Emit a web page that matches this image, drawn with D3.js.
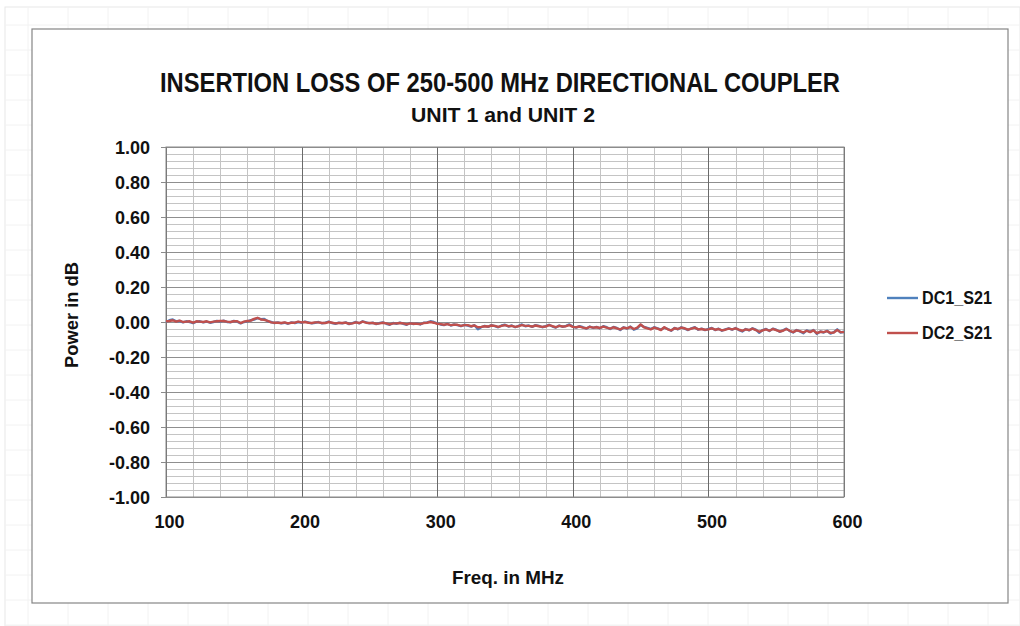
<!DOCTYPE html>
<html>
<head>
<meta charset="utf-8">
<script src="https://cdn.jsdelivr.net/npm/d3@7"></script>
<style>
  body { margin: 0; background: #fff; }
  svg text { font-family: "Liberation Sans", Arial, sans-serif; font-weight: bold; fill: #111; }
</style>
</head>
<body>
<svg id="chart" width="1020" height="626"></svg>
<script>
// sweep: 100 to 600 MHz in 2.5 MHz steps
const freqStart = 100;
const freqStop = 600;
const freqStep = 2.5;
const freqs = d3.range(freqStart, freqStop + 0.001, freqStep);

const seriesNames = ["DC1_S21", "DC2_S21"];
const seriesColors = ["#4F81BD", "#C0504D"];

const dc1 = [
  0.000, 0.010, 0.014, 0.004, 0.006, -0.002, 0.004, 0.000, -0.006, 0.002,
  0.004, -0.002, 0.002, -0.004, 0.000, 0.006, 0.002, 0.008, 0.000, -0.002,
  0.006, 0.002, -0.008, 0.000, 0.004, 0.010, 0.014, 0.022, 0.016, 0.018,
  0.004, 0.000, -0.006, -0.002, -0.008, -0.004, -0.010, -0.002, -0.006, 0.000,
  -0.004, 0.002, -0.002, -0.008, -0.004, 0.000, -0.008, -0.004, 0.002, -0.006,
  -0.010, -0.004, -0.008, -0.002, -0.012, -0.006, 0.000, -0.008, 0.004, -0.002,
  -0.008, -0.004, -0.012, -0.006, -0.002, -0.010, -0.016, -0.006, -0.010, -0.004,
  -0.010, -0.016, -0.006, -0.012, -0.008, -0.014, -0.004, -0.002, 0.004, 0.000,
  -0.008, -0.014, -0.018, -0.010, -0.020, -0.014, -0.018, -0.024, -0.016, -0.020,
  -0.026, -0.018, -0.042, -0.030, -0.022, -0.028, -0.018, -0.024, -0.030, -0.020,
  -0.016, -0.026, -0.020, -0.030, -0.022, -0.014, -0.024, -0.020, -0.028, -0.018,
  -0.022, -0.030, -0.024, -0.016, -0.026, -0.032, -0.020, -0.028, -0.022, -0.014,
  -0.026, -0.032, -0.024, -0.030, -0.038, -0.026, -0.034, -0.028, -0.036, -0.024,
  -0.030, -0.040, -0.028, -0.034, -0.046, -0.030, -0.038, -0.026, -0.044, -0.036,
  -0.016, -0.028, -0.034, -0.040, -0.030, -0.036, -0.044, -0.032, -0.040, -0.050,
  -0.034, -0.042, -0.030, -0.038, -0.046, -0.036, -0.030, -0.044, -0.038, -0.046,
  -0.040, -0.034, -0.046, -0.038, -0.050, -0.042, -0.036, -0.044, -0.034, -0.046,
  -0.054, -0.040, -0.048, -0.036, -0.044, -0.062, -0.046, -0.040, -0.052, -0.038,
  -0.044, -0.056, -0.048, -0.038, -0.052, -0.060, -0.046, -0.054, -0.064, -0.048,
  -0.056, -0.046, -0.068, -0.054, -0.060, -0.050, -0.066, -0.058, -0.042, -0.060,
  -0.056
];

const dc2 = [
  0.004, 0.006, 0.010, 0.002, 0.008, 0.000, 0.002, 0.004, -0.004, 0.004,
  0.002, 0.000, 0.004, -0.002, 0.002, 0.004, 0.006, 0.006, 0.002, 0.000,
  0.004, 0.004, -0.006, 0.002, 0.006, 0.008, 0.018, 0.024, 0.014, 0.012,
  0.006, -0.002, -0.004, -0.004, -0.006, -0.002, -0.008, -0.004, -0.004, 0.002,
  -0.002, 0.000, -0.004, -0.006, -0.002, -0.002, -0.006, -0.006, 0.000, -0.004,
  -0.008, -0.006, -0.006, -0.004, -0.010, -0.008, -0.002, -0.006, 0.002, -0.004,
  -0.006, -0.006, -0.010, -0.008, -0.004, -0.008, -0.014, -0.008, -0.008, -0.006,
  -0.008, -0.014, -0.008, -0.010, -0.010, -0.012, -0.006, -0.004, 0.000, -0.004,
  -0.010, -0.012, -0.016, -0.012, -0.018, -0.016, -0.016, -0.022, -0.018, -0.018,
  -0.024, -0.020, -0.030, -0.028, -0.024, -0.026, -0.020, -0.022, -0.028, -0.022,
  -0.018, -0.024, -0.022, -0.028, -0.024, -0.018, -0.022, -0.022, -0.026, -0.020,
  -0.024, -0.028, -0.026, -0.018, -0.024, -0.030, -0.022, -0.026, -0.024, -0.018,
  -0.028, -0.030, -0.026, -0.032, -0.036, -0.028, -0.032, -0.030, -0.034, -0.026,
  -0.032, -0.038, -0.030, -0.036, -0.042, -0.032, -0.036, -0.028, -0.040, -0.032,
  -0.014, -0.030, -0.036, -0.042, -0.032, -0.038, -0.046, -0.030, -0.042, -0.048,
  -0.036, -0.040, -0.032, -0.036, -0.044, -0.038, -0.032, -0.042, -0.040, -0.044,
  -0.042, -0.036, -0.044, -0.040, -0.048, -0.044, -0.038, -0.042, -0.036, -0.044,
  -0.050, -0.042, -0.046, -0.038, -0.046, -0.056, -0.048, -0.042, -0.050, -0.040,
  -0.046, -0.054, -0.050, -0.040, -0.050, -0.058, -0.048, -0.052, -0.060, -0.050,
  -0.058, -0.048, -0.064, -0.056, -0.058, -0.052, -0.062, -0.060, -0.046, -0.058,
  -0.058
];

const yTicks = [1, 0.8, 0.6, 0.4, 0.2, 0, -0.2, -0.4, -0.6, -0.8, -1];
const xTicks = [100, 200, 300, 400, 500, 600];

const svg = d3.select("#chart");

// faint spreadsheet cells behind the chart object
const sheet = svg.append("g");
sheet.append("rect")
  .attr("x", 5).attr("y", 7).attr("width", 1015).attr("height", 619)
  .attr("fill", "#fff").attr("stroke", "#e8e8e8");
for (let x = 28; x < 1020; x += 40) {
  sheet.append("line").attr("x1", x).attr("x2", x).attr("y1", 7).attr("y2", 626)
    .attr("stroke", "#f2f2f2");
}
for (let y = 25; y < 626; y += 25) {
  sheet.append("line").attr("x1", 5).attr("x2", 1020).attr("y1", y).attr("y2", y)
    .attr("stroke", "#f2f2f2");
}

// chart object frame
svg.append("rect")
  .attr("x", 32).attr("y", 29).attr("width", 976).attr("height", 574)
  .attr("fill", "#fff").attr("stroke", "#858585").attr("stroke-width", 1.2);

const x = d3.scaleLinear().domain([100, 600]).range([166, 844]);
const y = d3.scaleLinear().domain([-1, 1]).range([497, 147]);

// minor grid
const grid = svg.append("g");
grid.selectAll(".hminor")
  .data(d3.range(-1, 1.0001, 0.04))
  .enter().append("line")
  .attr("x1", x(100)).attr("x2", x(600))
  .attr("y1", (d) => Math.round(y(d)) + 0.5).attr("y2", (d) => Math.round(y(d)) + 0.5)
  .attr("stroke", "#c4c4c4").attr("stroke-width", 1);
grid.selectAll(".vminor")
  .data(d3.range(100, 601, 20))
  .enter().append("line")
  .attr("y1", y(1)).attr("y2", y(-1))
  .attr("x1", (d) => Math.round(x(d)) + 0.5).attr("x2", (d) => Math.round(x(d)) + 0.5)
  .attr("stroke", "#c4c4c4").attr("stroke-width", 1);
// major grid
grid.selectAll(".hmajor")
  .data(yTicks)
  .enter().append("line")
  .attr("x1", x(100)).attr("x2", x(600))
  .attr("y1", (d) => Math.round(y(d)) + 0.5).attr("y2", (d) => Math.round(y(d)) + 0.5)
  .attr("stroke", "#8f8f8f").attr("stroke-width", 1);
grid.selectAll(".vmajor")
  .data(xTicks)
  .enter().append("line")
  .attr("y1", y(1)).attr("y2", y(-1))
  .attr("x1", (d) => Math.round(x(d)) + 0.5).attr("x2", (d) => Math.round(x(d)) + 0.5)
  .attr("stroke", "#6a6a6a").attr("stroke-width", 1);

// plot border
svg.append("rect")
  .attr("x", x(100)).attr("y", y(1))
  .attr("width", x(600) - x(100)).attr("height", y(-1) - y(1))
  .attr("fill", "none").attr("stroke", "#8a8a8a");

// axes
const yAxis = d3.axisLeft(y).tickValues(yTicks).tickFormat(d3.format(".2f")).tickSize(5).tickPadding(11);
const gy = svg.append("g").attr("transform", `translate(${x(100)},0)`).call(yAxis);
gy.select(".domain").remove();
gy.selectAll("line").attr("stroke", "#8a8a8a");
gy.selectAll("text").style("font-size", "18px").attr("dy", "0.35em")
  .text((d) => d3.format(".2f")(d).replace("−", "-"));

const xAxis = d3.axisBottom(x).tickValues(xTicks).tickSize(0).tickPadding(18);
const gx = svg.append("g").attr("transform", `translate(0,${y(-1)})`).call(xAxis);
gx.select(".domain").remove();
gx.selectAll("text").style("font-size", "18px").attr("dx", "3px");

// series
const line = d3.line().x((d) => x(d.f)).y((d) => y(d.v));
[dc1, dc2].forEach((vals, i) => {
  svg.append("path")
    .datum(freqs.map((f, j) => ({ f: f, v: vals[j] })))
    .attr("fill", "none")
    .attr("stroke", seriesColors[i])
    .attr("stroke-width", 2.4)
    .attr("stroke-linejoin", "round")
    .attr("d", line);
});

// titles
svg.append("text")
  .attr("x", 500).attr("y", 92)
  .attr("text-anchor", "middle")
  .style("font-size", "27px")
  .attr("textLength", 680).attr("lengthAdjust", "spacingAndGlyphs")
  .text("INSERTION LOSS OF 250-500 MHz DIRECTIONAL COUPLER");
svg.append("text")
  .attr("x", 503).attr("y", 122)
  .attr("text-anchor", "middle")
  .style("font-size", "20px")
  .attr("textLength", 184).attr("lengthAdjust", "spacingAndGlyphs")
  .text("UNIT 1 and UNIT 2");

svg.append("text")
  .attr("x", 508).attr("y", 584)
  .attr("text-anchor", "middle")
  .style("font-size", "19px")
  .attr("textLength", 112).attr("lengthAdjust", "spacingAndGlyphs")
  .text("Freq. in MHz");

svg.append("text")
  .attr("transform", "translate(78,315) rotate(-90)")
  .attr("text-anchor", "middle")
  .style("font-size", "19px")
  .attr("textLength", 106).attr("lengthAdjust", "spacingAndGlyphs")
  .text("Power in dB");

// legend
const legend = svg.append("g");
seriesNames.forEach((name, i) => {
  const ly = 298 + i * 35;
  legend.append("line")
    .attr("x1", 887).attr("x2", 918).attr("y1", ly).attr("y2", ly)
    .attr("stroke", seriesColors[i]).attr("stroke-width", 2.4);
  legend.append("text")
    .attr("x", 922).attr("y", ly + 6)
    .style("font-size", "18px")
    .attr("textLength", 70).attr("lengthAdjust", "spacingAndGlyphs")
    .text(name);
});
</script>
</body>
</html>
